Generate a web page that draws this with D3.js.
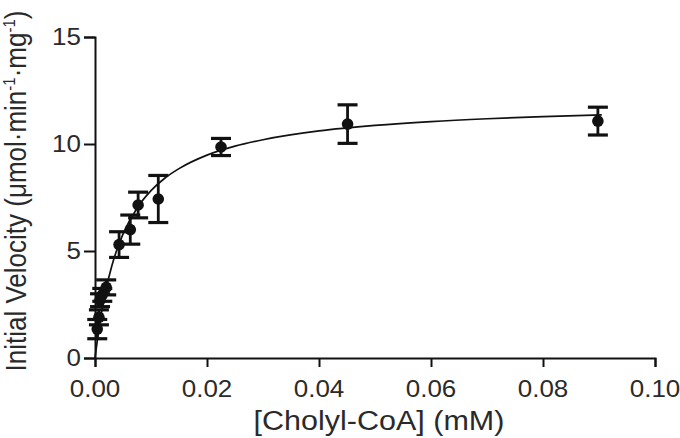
<!DOCTYPE html>
<html><head><meta charset="utf-8">
<script src="https://cdn.jsdelivr.net/npm/d3@7"></script>
<style>body{margin:0;background:#fff}svg{display:block}</style>
</head><body>
<svg id="c" width="680" height="438"></svg>
<script>
// Data
const concentration = [0.0898, 0.0451, 0.0225, 0.0113, 0.0077, 0.0063, 0.0043, 0.0020, 0.0013, 0.0009, 0.0007, 0.0004];
const velocity      = [11.07, 10.93, 9.86, 7.43, 7.15, 6.0, 5.3, 3.3, 2.95, 2.7, 1.9, 1.35];
const velocityErr   = [0.65, 0.9, 0.4, 1.1, 0.6, 0.68, 0.6, 0.35, 0.3, 0.3, 0.35, 0.45];
// Fitted curve
const fitX = [0, 0.001, 0.002, 0.003, 0.004, 0.005, 0.0075, 0.01, 0.0125, 0.015, 0.02, 0.025, 0.03, 0.04, 0.05, 0.06, 0.07, 0.08, 0.0905];
const fitY = [0, 1.88, 3.25, 4.3, 5.13, 5.79, 7.0, 7.82, 8.41, 8.85, 9.48, 9.9, 10.2, 10.61, 10.87, 11.05, 11.18, 11.28, 11.36];
const xTicks = [0, 0.02, 0.04, 0.06, 0.08, 0.10];
const yTicks = [0, 5, 10, 15];

const svg = d3.select("#c");
const x = d3.scaleLinear().domain([0, 0.10]).range([95, 655]);
const y = d3.scaleLinear().domain([0, 15]).range([358, 37]);
const font = "Liberation Sans, Arial, sans-serif";
const txt = "#2a2a2a";
const sx = 1.13; // horizontal stretch of text in the reference

// axes (lines + ticks from d3 axes, labels drawn separately)
const xa = svg.append("g").attr("transform", `translate(0,${y(0)})`)
  .call(d3.axisBottom(x).tickValues(xTicks).tickFormat("").tickSizeOuter(0).tickSize(9));
const ya = svg.append("g").attr("transform", `translate(${x(0)},0)`)
  .call(d3.axisLeft(y).tickValues(yTicks).tickFormat("").tickSizeOuter(0).tickSize(11));
[xa, ya].forEach(a => {
  a.select(".domain").attr("stroke", "#111").attr("stroke-width", 2);
  a.selectAll(".tick line").attr("stroke", "#111").attr("stroke-width", 2);
});
const fmt = d3.format(".2f");
svg.append("g").selectAll("text").data(xTicks).join("text")
  .attr("transform", d => `translate(${x(d)},397) scale(${sx},1)`)
  .attr("text-anchor", "middle").attr("font-family", font).attr("font-size", 23).attr("fill", txt)
  .text(d => fmt(d));
svg.append("g").selectAll("text").data(yTicks).join("text")
  .attr("transform", d => `translate(81,${y(d) + 8}) scale(${sx},1)`)
  .attr("text-anchor", "end").attr("font-family", font).attr("font-size", 23).attr("fill", txt)
  .text(d => d);

// fitted curve
const pts = fitX.map((d, i) => [d, fitY[i]]);
svg.append("path").datum(pts)
  .attr("fill", "none").attr("stroke", "#111").attr("stroke-width", 1.7)
  .attr("d", d3.line().x(d => x(d[0])).y(d => y(d[1])).curve(d3.curveMonotoneX));

// error bars and points
const data = concentration.map((c, i) => ({c, v: velocity[i], e: velocityErr[i]}));
const g = svg.append("g");
const capW = 10;
data.forEach(d => {
  const cx = x(d.c), y1 = y(d.v + d.e), y2 = y(d.v - d.e);
  g.append("line").attr("x1", cx).attr("x2", cx).attr("y1", y1).attr("y2", y2)
    .attr("stroke", "#111").attr("stroke-width", 2.8);
  [y1, y2].forEach(yy => g.append("line").attr("x1", cx - capW).attr("x2", cx + capW)
    .attr("y1", yy).attr("y2", yy).attr("stroke", "#111").attr("stroke-width", 3.2));
  g.append("circle").attr("cx", cx).attr("cy", y(d.v)).attr("r", 5.8).attr("fill", "#111");
});

// axis titles
svg.append("text").attr("transform", `translate(379,430) scale(${sx},1)`).attr("text-anchor", "middle")
  .attr("font-family", font).attr("font-size", 27).attr("fill", txt).text("[Cholyl-CoA] (mM)");
const yt = svg.append("text").attr("transform", `translate(26,191) scale(${sx},1) rotate(-90)`)
  .attr("text-anchor", "middle").attr("font-family", font).attr("font-size", 26).attr("fill", txt);
yt.append("tspan").text("Initial Velocity (μmol·min");
yt.append("tspan").attr("font-size", 15).attr("dy", -10).text("-1");
yt.append("tspan").attr("dy", 10).text("·mg");
yt.append("tspan").attr("font-size", 15).attr("dy", -10).text("-1");
yt.append("tspan").attr("dy", 10).text(")");
</script>
</body></html>
